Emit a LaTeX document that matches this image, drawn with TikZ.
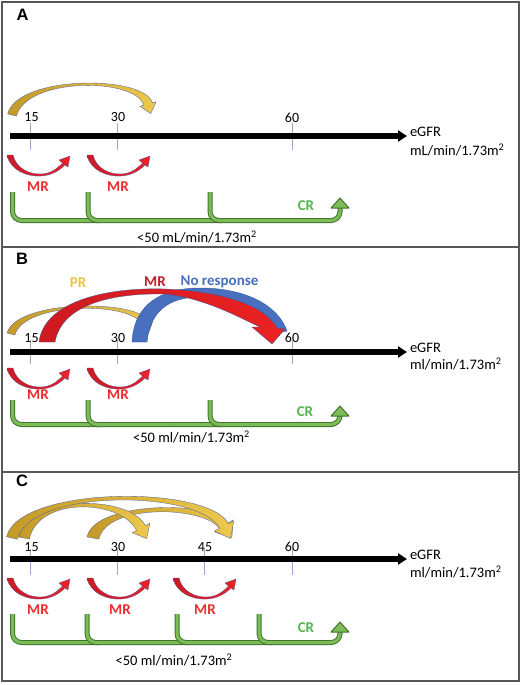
\documentclass[tikz,border=0pt]{standalone}
\usepackage{fontspec}
\setmainfont{Carlito}
\newfontfamily\panelfont{Liberation Sans}
\usetikzlibrary{calc,arrows.meta}
\definecolor{yD}{RGB}{196,154,38}
\definecolor{yL}{RGB}{236,200,76}
\definecolor{yO}{RGB}{90,100,150}
\definecolor{ylab}{RGB}{236,196,66}
\definecolor{mred}{RGB}{236,34,34}
\definecolor{mredD}{RGB}{205,26,32}
\definecolor{mredM}{RGB}{120,80,170}
\definecolor{rO}{RGB}{90,80,160}
\definecolor{mrlab}{RGB}{238,45,45}
\definecolor{mrtop}{RGB}{192,30,40}
\definecolor{nblue}{RGB}{72,112,190}
\definecolor{nblueD}{RGB}{52,88,160}
\definecolor{gline}{RGB}{124,188,84}
\definecolor{glineD}{RGB}{66,116,50}
\definecolor{crlab}{RGB}{84,182,80}
\definecolor{tickc}{RGB}{150,170,205}
\definecolor{frmc}{RGB}{88,88,88}
% curved block arrow: style, P0, P1, P2, P3 (neck), base half width, neck half width, head half width, head length
\newcommand\blockarc[9]{%
  \path[#1] ($(#2)!#6!90:(#3)$) .. controls ($(#3)!#6!-90:(#2)$) and ($(#4)!#7!90:(#5)$) .. ($(#5)!#7!-90:(#4)$)
    -- ($(#5)!#8!-90:(#4)$) -- ($(#5)!-#9!(#4)$) -- ($(#5)!#8!90:(#4)$) -- ($(#5)!#7!90:(#4)$)
    .. controls ($(#4)!#7!-90:(#5)$) and ($(#3)!#6!90:(#2)$) .. ($(#2)!#6!-90:(#3)$) -- cycle;}
% small red MR arc
\newcommand\mrarcat[2]{%
  \path[rarc, shift={(#1,#2)}] (0,0) .. controls (3,15) and (20,22) .. (34,21)
    .. controls (44,20.5) and (52,16) .. (58,10) -- (61,12) -- (63,1) -- (52,5) -- (55.5,8)
    .. controls (50,14) and (43,18.8) .. (34,19) .. controls (22,19.5) and (9,13) .. (6,0) -- cycle;}
\begin{document}
\begin{tikzpicture}[x=1pt,y=-1pt,
  every node/.style={inner sep=0pt, outer sep=0pt},
  lbl/.style={font=\fontsize{14.5}{16}\selectfont},
  ticklbl/.style={font=\fontsize{14}{15}\selectfont},
  bold/.style={font=\fontsize{15}{16}\selectfont\bfseries},
  panel/.style={font=\panelfont\fontsize{16.5}{18}\selectfont\bfseries},
  axisline/.style={line width=6pt, -{Triangle[length=9pt,width=11pt]}},
  tickline/.style={draw=tickc, line width=0.7pt},
  frm/.style={draw=frmc, line width=1.2pt},
  yarrow/.style={shade, left color=yD, right color=yL, draw=yO, line width=0.35pt, line join=round},
  rarc/.style={shade, left color=mredD, middle color=mredM, right color=mred, draw=rO, line width=0.3pt, line join=round},
  gbr/.style={draw=glineD, double=gline, double distance=3pt, line width=1pt, rounded corners=9pt},
  ghead/.style={fill=gline, draw=glineD, line width=1pt, line join=round},
]
\useasboundingbox (0,0) rectangle (523,685);
\fill[white] (0,0) rectangle (523,685);
\draw[frm] (2,2) rectangle (519,247);
\draw[frm] (2,247) rectangle (519,472);
\draw[frm] (2,472) rectangle (519,681);

% ================= Panel A =================
\node[panel] (pA) at (22.5,14.5) {A};
\blockarc{yarrow}{12,115}{22,76}{140,76}{148,104}{4.5pt}{4.5pt}{8.5pt}{10pt}
\foreach \x in {30,117,292} \draw[tickline] (\x,123) -- (\x,150);
\coordinate (axA0) at (10,136); \coordinate (axA1) at (407,136);
\draw[axisline] (axA0) -- (axA1);
\node[ticklbl] (tA15) at (31.5,117.5) {15};
\node[ticklbl] (tA30) at (118,117.5) {30};
\node[ticklbl] (tA60) at (292,117.5) {60};
\node[lbl, anchor=west] (eA1) at (410,132) {eGFR};
\node[lbl, anchor=west] (eA2) at (410,150) {mL/min/1.73m\textsuperscript{2}};
\mrarcat{7}{155}
\mrarcat{87}{155}
\node[bold, text=mrlab] (mA1) at (38,187) {MR};
\node[bold, text=mrlab] (mA2) at (118,187) {MR};
\draw[gbr] (12.5,192) -- (12.5,220.5) -- (100,220.5);
\draw[gbr] (88,192) -- (88,220.5) -- (222,220.5);
\draw[gbr] (210,192) -- (210,220.5) -- (340,220.5) -- (340,207);
\path[ghead] (331,208) -- (340,198) -- (349,208) -- cycle;
\node[bold, text=crlab] (cA) at (306,206) {CR};
\node[lbl] (lA) at (197,237) {<50 mL/min/1.73m\textsuperscript{2}};

% ================= Panel B =================
\node[panel] (pB) at (22,259) {B};
\blockarc{yarrow}{11,334}{20,300}{138,300}{146,324}{4pt}{4pt}{7pt}{9pt}
% blue: no response
\path[fill=nblue, draw=nblueD, line width=0.4pt, line join=round]
  (132,342) .. controls (134,305) and (160,288) .. (200,288)
  .. controls (245,288) and (278,305) .. (287,331) -- (270,334)
  .. controls (262,312) and (235,297) .. (200,297)
  .. controls (168,297) and (150,312) .. (147,342) -- cycle;
% red: MR
\path[shade, left color=mredD, right color=mred, draw=nblueD, line width=0.3pt, line join=round]
  (39,342) .. controls (44,302) and (105,287) .. (165,289)
  .. controls (220,291) and (265,305) .. (277,328)
  -- (285,329) -- (272,344) -- (252,327) -- (260,327)
  .. controls (240,318) and (205,298) .. (165,294)
  .. controls (110,293) and (62,305) .. (55,342) -- cycle;
\node[bold, text=ylab] (prB) at (78,283) {PR};
\node[bold, text=mrtop] (mrB) at (155,282) {MR};
\node[bold, text=nblue] (nrB) at (219.5,282) {No response};
\foreach \x in {30,117,292} \draw[tickline] (\x,340) -- (\x,364);
\coordinate (axB0) at (10,352); \coordinate (axB1) at (407,352);
\draw[axisline] (axB0) -- (axB1);
\node[ticklbl] (tB15) at (31.5,338) {15};
\node[ticklbl] (tB30) at (118,338) {30};
\node[ticklbl] (tB60) at (292,338) {60};
\node[lbl, anchor=west] (eB1) at (410,348) {eGFR};
\node[lbl, anchor=west] (eB2) at (410,364) {ml/min/1.73m\textsuperscript{2}};
\mrarcat{7}{368}
\mrarcat{87}{368}
\node[bold, text=mrlab] (mB1) at (38,395) {MR};
\node[bold, text=mrlab] (mB2) at (118,395) {MR};
\draw[gbr] (12.5,400) -- (12.5,424.5) -- (100,424.5);
\draw[gbr] (88,400) -- (88,424.5) -- (222,424.5);
\draw[gbr] (210,400) -- (210,424.5) -- (340,424.5) -- (340,415);
\path[ghead] (331,416) -- (340,406) -- (349,416) -- cycle;
\node[bold, text=crlab] (cB) at (305,412) {CR};
\node[lbl] (lB) at (191.5,437) {<50 ml/min/1.73m\textsuperscript{2}};

% ================= Panel C =================
\node[panel] (pC) at (22,481) {C};
\blockarc{yarrow}{93,538}{100,502.5}{208,502.5}{224,526}{6pt}{5pt}{11pt}{14pt}
\blockarc{yarrow}{24,538}{32,496}{124,496}{141,528}{5.5pt}{5pt}{10pt}{12pt}
\blockarc{yarrow}{12,538}{24,487}{204,487}{224,526}{5.5pt}{5pt}{11pt}{14pt}
\foreach \x in {30,117,204,292} \draw[tickline] (\x,549) -- (\x,575);
\coordinate (axC0) at (10,559); \coordinate (axC1) at (407,559);
\draw[axisline] (axC0) -- (axC1);
\node[ticklbl] (tC15) at (31.5,547) {15};
\node[ticklbl] (tC30) at (118,547) {30};
\node[ticklbl] (tC45) at (205,547) {45};
\node[ticklbl] (tC60) at (292,547) {60};
\node[lbl, anchor=west] (eC1) at (410,555) {eGFR};
\node[lbl, anchor=west] (eC2) at (410,572) {ml/min/1.73m\textsuperscript{2}};
\mrarcat{7}{578}
\mrarcat{87}{578}
\mrarcat{173}{578}
\node[bold, text=mrlab] (mC1) at (38,610) {MR};
\node[bold, text=mrlab] (mC2) at (120,610) {MR};
\node[bold, text=mrlab] (mC3) at (205,610) {MR};
\draw[gbr] (12.5,614) -- (12.5,642.5) -- (100,642.5);
\draw[gbr] (87,614) -- (87,642.5) -- (190,642.5);
\draw[gbr] (177,614) -- (177,642.5) -- (272,642.5);
\draw[gbr] (259,614) -- (259,642.5) -- (340,642.5) -- (340,631);
\path[ghead] (331,632) -- (340,622) -- (349,632) -- cycle;
\node[bold, text=crlab] (cC) at (306,628) {CR};
\node[lbl] (lC) at (174,660) {<50 ml/min/1.73m\textsuperscript{2}};
\end{tikzpicture}
\end{document}
